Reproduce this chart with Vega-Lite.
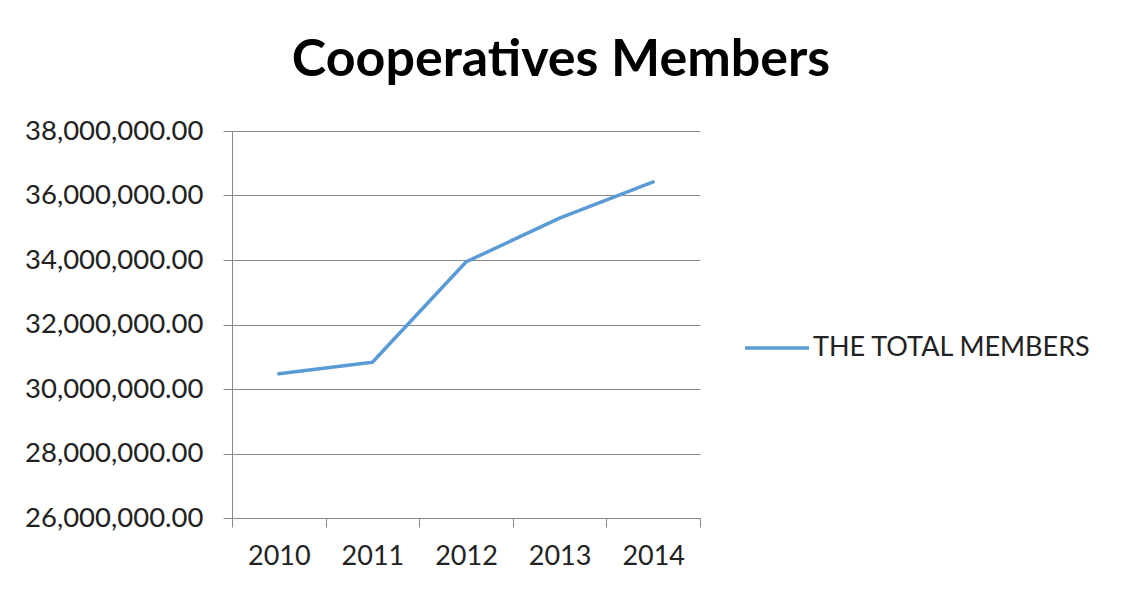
{
  "$schema": "https://vega.github.io/schema/vega-lite/v6.json",
  "autosize": "none",
  "width": 468,
  "height": 387,
  "padding": {"left": 232, "top": 131, "right": 425, "bottom": 78},
  "background": "white",
  "title": {
    "text": "Cooperatives Members",
    "font": "Lato",
    "fontWeight": "bold",
    "fontSize": 52,
    "color": "#000000",
    "anchor": "middle",
    "frame": "group",
    "dx": 95,
    "offset": 30
  },
  "data": {
    "values": [
      {"year": "2010", "series": "THE TOTAL MEMBERS", "members": 30470000},
      {"year": "2011", "series": "THE TOTAL MEMBERS", "members": 30830000},
      {"year": "2012", "series": "THE TOTAL MEMBERS", "members": 33940000},
      {"year": "2013", "series": "THE TOTAL MEMBERS", "members": 35300000},
      {"year": "2014", "series": "THE TOTAL MEMBERS", "members": 36420000}
    ]
  },
  "mark": {"type": "line", "strokeWidth": 3.5, "strokeCap": "round", "strokeJoin": "round"},
  "encoding": {
    "x": {
      "field": "year",
      "type": "ordinal",
      "scale": {"type": "band", "paddingInner": 0, "paddingOuter": 0},
      "axis": {
        "title": null,
        "labelAngle": 0,
        "labelFont": "Lato",
        "labelFontSize": 27,
        "labelColor": "#222222",
        "labelPadding": 16,
        "tickBand": "extent",
        "tickSize": 9,
        "tickColor": "#898989",
        "domainColor": "#898989",
        "grid": false
      }
    },
    "y": {
      "field": "members",
      "type": "quantitative",
      "scale": {"domain": [26000000, 38000000], "nice": false, "zero": false},
      "axis": {
        "title": null,
        "values": [26000000, 28000000, 30000000, 32000000, 34000000, 36000000, 38000000],
        "format": ",.2f",
        "labelFont": "Lato",
        "labelFontSize": 27.5,
        "labelColor": "#222222",
        "labelPadding": 20,
        "tickSize": 9,
        "tickColor": "#898989",
        "domainColor": "#898989",
        "grid": true,
        "gridColor": "#898989",
        "gridWidth": 1
      }
    },
    "color": {
      "field": "series",
      "type": "nominal",
      "scale": {"range": ["#5B9BD5"]},
      "legend": {
        "title": null,
        "orient": "none",
        "legendX": 511,
        "legendY": 183,
        "symbolType": "stroke",
        "symbolSize": 4096,
        "symbolStrokeWidth": 3.5,
        "labelFont": "Lato",
        "labelFontSize": 27,
        "labelColor": "#222222",
        "labelOffset": 2,
        "labelLimit": 500
      }
    }
  },
  "config": {
    "view": {"stroke": null}
  }
}
